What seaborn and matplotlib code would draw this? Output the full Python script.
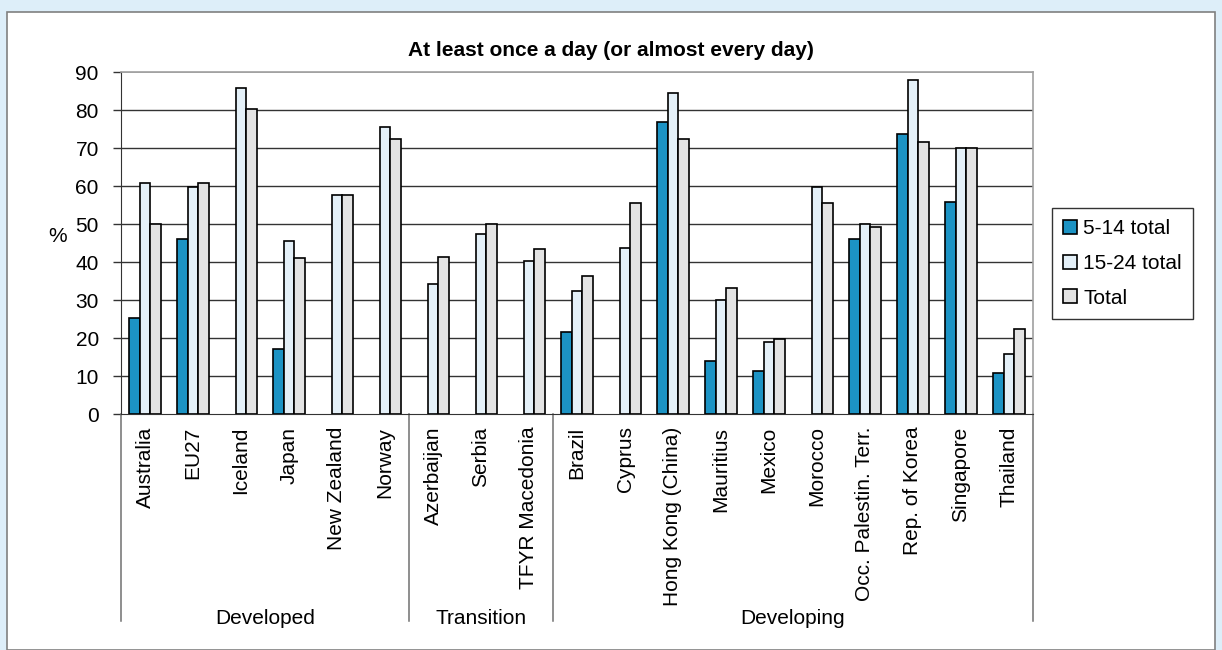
import numpy as np
import pandas as pd
import seaborn as sns
import matplotlib.pyplot as plt
from matplotlib.patches import Rectangle

countries = ["Australia", "EU27", "Iceland", "Japan", "New Zealand", "Norway",
             "Azerbaijan", "Serbia", "TFYR Macedonia",
             "Brazil", "Cyprus", "Hong Kong (China)", "Mauritius", "Mexico",
             "Morocco", "Occ. Palestin. Terr.", "Rep. of Korea", "Singapore", "Thailand"]
groups = ["Developed", "Transition", "Developing"]
group_sizes = [6, 3, 10]

age_5_14 = [25.2, 46, np.nan, 17.1, np.nan, np.nan,
            np.nan, np.nan, np.nan,
            21.5, np.nan, 76.8, 14.0, 11.3, np.nan, 46.0, 73.7, 55.8, 10.9]
age_15_24 = [60.8, 59.8, 85.7, 45.5, 57.7, 75.4,
             34.1, 47.5, 40.3,
             32.3, 43.8, 84.4, 30.0, 18.9, 59.8, 50.0, 87.9, 70.0, 15.8]
total = [50.0, 60.8, 80.3, 41.1, 57.7, 72.4,
         41.2, 50.0, 43.4,
         36.3, 55.5, 72.4, 33.1, 19.7, 55.4, 49.1, 71.5, 70.0, 22.4]

series = ["5-14 total", "15-24 total", "Total"]
colors = ["#009ee0", "#e1f1fb", "#e3e3e3"]

df = pd.DataFrame({
    "country": countries * 3,
    "series": np.repeat(series, len(countries)),
    "value": age_5_14 + age_15_24 + total,
})

plt.rcParams["font.family"] = ["Liberation Sans", "DejaVu Sans"]
FS = 15

W, H = 1222, 650
fig = plt.figure(figsize=(W / 100, H / 100), dpi=100)
fig.patch.set_facecolor("#ddeef9")
fig.patches.append(Rectangle((7 / W, 0), (1215 - 7) / W, 1 - 12 / H,
                             transform=fig.transFigure, facecolor="white",
                             edgecolor="#808080", linewidth=1.2, zorder=-10))

ax = fig.add_axes([121 / W, 1 - 414 / H, (1033 - 121) / W, (414 - 72) / H])
ax.set_zorder(5)
sns.barplot(data=df, x="country", y="value", hue="series", hue_order=series,
            order=countries, palette=colors, edgecolor="black", linewidth=1.2,
            width=0.67, gap=0, ax=ax, zorder=3)

ax.set_ylim(0, 90)
ax.set_xlim(-0.5, len(countries) - 0.5)
ax.set_yticks(range(0, 91, 10))
ax.tick_params(axis="y", labelsize=FS, length=6, width=1, color="#333333", pad=10)
ax.tick_params(axis="x", length=0, pad=9)
ax.set_xticks(range(len(countries)))
ax.set_xticklabels(countries, rotation=90, fontsize=FS, va="top", ha="center")
ax.set_xlabel("")
ax.set_ylabel("")
ax.set_facecolor("white")
for y in range(10, 90, 10):
    ax.axhline(y, color="#333333", linewidth=1, zorder=1)
ax.axhline(90, color="#a0a0a0", linewidth=1.2, zorder=1)
for side in ["top", "right"]:
    ax.spines[side].set_color("#a0a0a0")
    ax.spines[side].set_linewidth(1.2)
ax.spines["left"].set_color("#333333")
ax.spines["bottom"].set_color("#333333")

# group separators and group labels below the category labels
tr = ax.get_xaxis_transform()
depth = (621 - 414) / (414 - 72)
bounds = np.concatenate([[0], np.cumsum(group_sizes)]) - 0.5
for b in bounds:
    ax.plot([b, b], [0, -depth], transform=tr, color="#707070", linewidth=1.1,
            clip_on=False)
for g, lo, hi in zip(groups, bounds[:-1], bounds[1:]):
    ax.text((lo + hi) / 2, -(618 - 414) / (414 - 72), g, transform=tr,
            ha="center", va="center", fontsize=FS)

fig.text(611 / W, 1 - 50 / H, "At least once a day (or almost every day)",
         ha="center", va="center", fontsize=FS, fontweight="bold")
fig.text(58 / W, 1 - 237 / H, "%", ha="center", va="center", fontsize=FS)

ax.legend(loc="upper left", bbox_to_anchor=(1052 / W, 1 - 208 / H),
          bbox_transform=fig.transFigure, fontsize=FS, frameon=True,
          fancybox=False, edgecolor="black", handlelength=0.65,
          handleheight=0.65, handletextpad=0.3, labelspacing=0.75,
          borderpad=0.55, borderaxespad=0)
ax.get_legend().get_frame().set_linewidth(1)

fig.savefig("out.png", dpi=100, facecolor=fig.get_facecolor())
